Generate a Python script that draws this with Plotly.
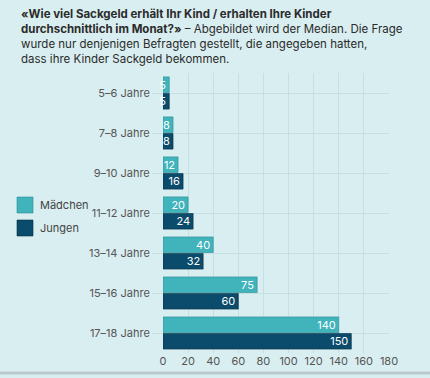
import plotly.graph_objects as go

categories = ["5–6 Jahre", "7–8 Jahre", "9–10 Jahre", "11–12 Jahre", "13–14 Jahre", "15–16 Jahre", "17–18 Jahre"]
maedchen = [5, 8, 12, 20, 40, 75, 140]
jungen = [5, 8, 16, 24, 32, 60, 150]
x_ticks = [0, 20, 40, 60, 80, 100, 120, 140, 160, 180]
series_names = ["Mädchen", "Jungen"]

C_M = "#40b3bb"
C_J = "#0b4b6b"
BG = "#d9eef0"
FONT = "Inter, Noto Sans, sans-serif"

L, R, T, B = 163, 41, 73, 25
PW, PH = 430 - L - R, 378 - T - B


def px_x(p):
    return (p - L) / PW


def px_y(p):
    return 1 - (p - T) / PH


fig = go.Figure()
fig.add_trace(go.Bar(
    y=categories, x=maedchen, name=series_names[0], orientation="h",
    marker=dict(color=C_M, line=dict(color="#2a8f97", width=0.6)),
    text=[str(v) for v in maedchen], textposition="inside", insidetextanchor="end",
    textfont=dict(color="white", size=11, family=FONT), textangle=0,
    constraintext="none", cliponaxis=False,
))
fig.add_trace(go.Bar(
    y=categories, x=jungen, name=series_names[1], orientation="h",
    marker=dict(color=C_J, line=dict(color="#062f45", width=0.6)),
    text=[str(v) for v in jungen], textposition="inside", insidetextanchor="end",
    textfont=dict(color="white", size=11, family=FONT), textangle=0,
    constraintext="none", cliponaxis=False,
))

title_text = ("<b>«Wie viel Sackgeld erhält Ihr Kind / erhalten Ihre Kinder<br>"
              "durchschnittlich im Monat?»</b> – Abgebildet wird der Median. Die Frage<br>"
              "wurde nur denjenigen Befragten gestellt, die angegeben hatten,<br>"
              "dass ihre Kinder Sackgeld bekommen.")

fig.add_annotation(
    text=title_text, xref="paper", yref="paper", x=px_x(19), y=px_y(5),
    xanchor="left", yanchor="top", align="left", showarrow=False,
    font=dict(family=FONT, size=11.5, color="#2b2b2b"),
)

# legend (manual)
for i, (name, col, lc) in enumerate([(series_names[0], C_M, "#2a8f97"), (series_names[1], C_J, "#062f45")]):
    y0 = 197 + i * 23
    fig.add_shape(type="rect", xref="paper", yref="paper",
                  x0=px_x(17), x1=px_x(33), y0=px_y(y0), y1=px_y(y0 + 16),
                  fillcolor=col, line=dict(color=lc, width=0.6))
    fig.add_annotation(text=name, xref="paper", yref="paper", x=px_x(38), y=px_y(y0 + 8),
                       xanchor="left", yanchor="middle", showarrow=False,
                       font=dict(family=FONT, size=11, color="#444"))

fig.update_layout(
    width=430, height=378,
    margin=dict(l=L, r=R, t=T, b=B, autoexpand=False),
    paper_bgcolor=BG, plot_bgcolor=BG,
    barmode="group", bargap=0.17, bargroupgap=0.06,
    showlegend=False,
    uniformtext=dict(minsize=8, mode="show"),
    font=dict(family=FONT, color="#555"),
)
fig.update_xaxes(
    range=[0, 180], tickvals=x_ticks, showgrid=True, gridcolor="#c6dfe2", gridwidth=1,
    zeroline=False, showline=False, tickfont=dict(size=11, color="#555", family=FONT),
    ticks="", ticklabelstandoff=0,
)
fig.update_yaxes(
    autorange="reversed", showgrid=True, gridcolor="#c6dfe2", gridwidth=1,
    ticks="outside", ticklen=10, tickcolor="#c6dfe2", showline=False,
    tickfont=dict(size=11, color="#555", family=FONT),
)
fig.add_shape(type="line", xref="paper", yref="paper", x0=-1, x1=2, y0=px_y(373), y1=px_y(373),
              line=dict(color="#b8c8cc", width=3))

fig.write_html("out.html", config={"displayModeBar": False},
               post_script="document.body.style.margin='0';document.body.style.background='%s';" % BG)
